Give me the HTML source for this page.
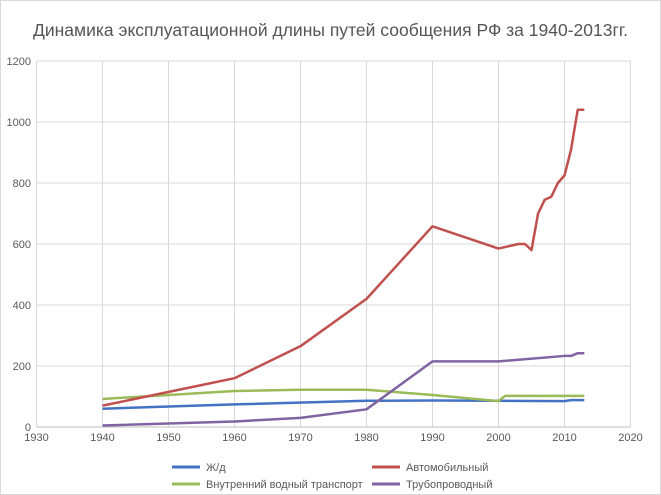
<!DOCTYPE html>
<html><head><meta charset="utf-8"><style>
body{margin:0;background:#fff;}
svg{display:block;font-family:"Liberation Sans","DejaVu Sans",sans-serif;}
</style></head><body>
<svg id="c" width="661" height="495" xmlns="http://www.w3.org/2000/svg">
<rect x="0.5" y="0.5" width="660" height="494" fill="#fff" stroke="#d9d9d9"/>
<text x="33" y="36" textLength="595" lengthAdjust="spacingAndGlyphs" font-size="17.5" fill="#555">Динамика эксплуатационной длины путей сообщения РФ за 1940-2013гг.</text>
<g id="grid"></g><g id="lines"></g>
<g font-size="11" fill="#595959">
<line x1="172" y1="467" x2="200" y2="467" stroke="#4472c4" stroke-width="3"/><text x="206" y="471">Ж/д</text>
<line x1="372" y1="467" x2="400" y2="467" stroke="#c0504d" stroke-width="3"/><text x="406" y="471">Автомобильный</text>
<line x1="172" y1="484" x2="200" y2="484" stroke="#9bbb59" stroke-width="3"/><text x="206" y="488">Внутренний водный транспорт</text>
<line x1="372" y1="484" x2="400" y2="484" stroke="#8064a2" stroke-width="3"/><text x="406" y="488">Трубопроводный</text>
</g>
</svg>
<script>
var X=function(y){return 36.5+(y-1930)*6.6},Y=function(v){return 427-v*0.305};
var g='';
for(var v=0;v<=1200;v+=200){var y=Y(v);g+='<line x1="36.5" x2="630.5" y1="'+y+'" y2="'+y+'" stroke="#d9d9d9"/>';g+='<text x="31" y="'+(y+4)+'" text-anchor="end" font-size="11" fill="#595959">'+v+'</text>';}
for(var t=1930;t<=2020;t+=10){var x=X(t);g+='<line x1="'+x+'" x2="'+x+'" y1="61" y2="427" stroke="#d9d9d9"/>';g+='<text x="'+x+'" y="441" text-anchor="middle" font-size="11" fill="#595959">'+t+'</text>';}
g+='<line x1="36.5" x2="630.5" y1="427" y2="427" stroke="#bfbfbf"/>';
document.getElementById('grid').innerHTML=g;
var S=[
['#4472c4',[[1940,60],[1960,74],[1980,86],[1990,87],[2000,86],[2010,85],[2011,88],[2013,88]]],
['#9bbb59',[[1940,92],[1960,118],[1970,122],[1980,122],[1990,105],[2000,85],[2001,102],[2013,102]]],
['#8064a2',[[1940,5],[1960,18],[1970,30],[1980,58],[1990,215],[2000,215],[2010,233],[2011,233],[2012,242],[2013,242]]],
['#c0504d',[[1940,70],[1960,160],[1970,265],[1980,420],[1990,658],[2000,585],[2003,600],[2004,600],[2005,580],[2006,700],[2007,745],[2008,755],[2009,800],[2010,825],[2011,910],[2012,1040],[2013,1040]]]];
var l='';
S.forEach(function(s){l+='<polyline fill="none" stroke="'+s[0]+'" stroke-width="2.5" stroke-linejoin="round" points="'+s[1].map(function(p){return X(p[0])+','+Y(p[1])}).join(' ')+'"/>';});
document.getElementById('lines').innerHTML=l;
</script>
</body></html>
